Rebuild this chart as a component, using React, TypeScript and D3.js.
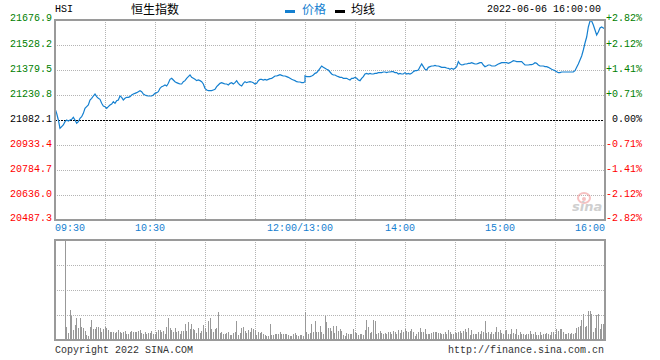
import * as d3 from 'd3'

// y-axis labels (price on the left, change vs previous close on the right)
const priceTicks = [21676.9, 21528.2, 21379.5, 21230.8, 21082.1, 20933.4, 20784.7, 20636.0, 20487.3]
const pctTicks = ['+2.82%', '+2.12%', '+1.41%', '+0.71%', '0.00%', '-0.71%', '-1.41%', '-2.12%', '-2.82%']
const prevClose = 21082.1

// time axis: slot = trading minute since 09:30 (lunch break folded out)
const timeLabels = ['09:30', '10:30', '12:00/13:00', '14:00', '15:00', '16:00']
const timeSlots = [0, 60, 150, 210, 270, 330]

// 09:30 - 12:00, one value per minute
const morningPrice = [
  21151.5, 21121.8, 21082.1, 21032.5, 21042.5, 21052.4, 21072.2, 21082.1, 21076.2, 21082.1,
  21086.1, 21098.0, 21082.1, 21062.3, 21072.2, 21092.0, 21101.9, 21121.8, 21151.5, 21161.4,
  21171.3, 21201.1, 21211.0, 21224.9, 21236.8, 21220.9, 21211.0, 21205.0, 21181.2, 21165.4,
  21161.4, 21151.5, 21161.4, 21171.3, 21177.3, 21191.2, 21181.2, 21197.1, 21201.1, 21224.9,
  21216.9, 21201.1, 21211.0, 21216.9, 21216.9, 21220.9, 21230.8, 21236.8, 21240.7, 21244.7,
  21250.6, 21256.6, 21250.6, 21236.8, 21230.8, 21226.9, 21224.9, 21224.9, 21224.9, 21230.8,
  21240.7, 21244.7, 21250.6, 21270.5, 21280.4, 21284.3, 21290.3, 21284.3, 21300.2, 21324.0,
  21330.0, 21320.0, 21310.1, 21304.2, 21300.2, 21296.2, 21296.2, 21310.1, 21316.1, 21330.0,
  21339.9, 21349.8, 21335.9, 21330.0, 21324.0, 21316.1, 21320.0, 21316.1, 21310.1, 21296.2,
  21270.5, 21260.6, 21256.6, 21256.6, 21256.6, 21260.6, 21264.5, 21280.4, 21290.3, 21300.2,
  21304.2, 21300.2, 21296.2, 21296.2, 21290.3, 21300.2, 21304.2, 21296.2, 21304.2, 21316.1,
  21300.2, 21290.3, 21284.3, 21300.2, 21310.1, 21304.2, 21308.1, 21310.1, 21308.1, 21304.2,
  21296.2, 21300.2, 21316.1, 21324.0, 21324.0, 21320.0, 21324.0, 21320.0, 21324.0, 21328.0,
  21330.0, 21335.9, 21343.8, 21343.8, 21347.8, 21351.8, 21347.8, 21343.8, 21343.8, 21339.9,
  21335.9, 21330.0, 21324.0, 21320.0, 21316.1, 21310.1, 21308.1, 21308.1, 21304.2, 21304.2,
  21310.1,
]

// 13:00 - 16:00, one value per minute
const afternoonPrice = [
  21343.8, 21339.9, 21339.9, 21339.9, 21343.8, 21349.8, 21359.7, 21363.7, 21375.6, 21389.4,
  21403.3, 21395.4, 21389.4, 21383.5, 21379.5, 21367.6, 21355.7, 21349.8, 21349.8, 21343.8,
  21339.9, 21335.9, 21335.9, 21330.0, 21330.0, 21330.0, 21324.0, 21320.0, 21330.0, 21330.0,
  21335.9, 21330.0, 21320.0, 21316.1, 21330.0, 21339.9, 21355.7, 21359.7, 21355.7, 21359.7,
  21355.7, 21355.7, 21359.7, 21359.7, 21363.7, 21363.7, 21363.7, 21367.6, 21367.6, 21363.7,
  21367.6, 21367.6, 21369.6, 21369.6, 21363.7, 21363.7, 21355.7, 21359.7, 21355.7, 21355.7,
  21363.7, 21355.7, 21359.7, 21355.7, 21359.7, 21369.6, 21375.6, 21375.6, 21379.5, 21399.3,
  21415.2, 21399.3, 21383.5, 21379.5, 21395.4, 21399.3, 21403.3, 21403.3, 21407.3, 21403.3,
  21403.3, 21399.3, 21395.4, 21395.4, 21395.4, 21391.4, 21389.4, 21383.5, 21389.4, 21383.5,
  21389.4, 21399.3, 21429.1, 21415.2, 21409.3, 21411.2, 21415.2, 21415.2, 21419.2, 21419.2,
  21423.1, 21419.2, 21415.2, 21415.2, 21419.2, 21423.1, 21423.1, 21409.3, 21399.3, 21403.3,
  21409.3, 21409.3, 21403.3, 21403.3, 21403.3, 21409.3, 21415.2, 21419.2, 21423.1, 21423.1,
  21423.1, 21423.1, 21419.2, 21423.1, 21429.1, 21435.0, 21433.1, 21429.1, 21429.1, 21429.1,
  21429.1, 21419.2, 21409.3, 21409.3, 21409.3, 21411.2, 21411.2, 21415.2, 21423.1, 21419.2,
  21409.3, 21403.3, 21403.3, 21403.3, 21399.3, 21399.3, 21395.4, 21389.4, 21383.5, 21379.5,
  21375.6, 21369.6, 21363.7, 21363.7, 21367.6, 21367.6, 21367.6, 21367.6, 21367.6, 21367.6,
  21367.6, 21367.6, 21375.6, 21395.4, 21415.2, 21439.0, 21462.8, 21498.5, 21540.1, 21575.8,
  21635.3, 21671.0, 21671.0, 21647.2, 21617.4, 21587.7, 21605.5, 21629.3, 21635.3, 21629.3,
  21623.4,
]

// volume per slot (relative units, panel top = 100)
const volume = [
  1, 1, 1, 1, 1, 1, 180,
  13.3, 7.3, 30, 24, 10, 15, 21.7, 12.3, 21.7, 13.3,
  12.3, 9, 5, 4.3, 13.3, 20, 11, 11, 13.3, 13.3,
  12.3, 8.3, 11, 13.3, 12.3, 10, 8.3, 8.3, 7.7, 6.7,
  8.3, 9.7, 7.7, 6.7, 8.3, 9, 6.3, 6.3, 7.7, 9,
  7.7, 8.3, 7.7, 9, 10, 6.7, 6.3, 8.3, 6.3, 6.7,
  7, 9, 6.3, 5.7, 7.7, 10, 10, 8.3, 9, 5.7,
  13.3, 22.3, 12.3, 10, 8.3, 12.3, 8.3, 9, 6.3, 9,
  9, 15.7, 9, 18.3, 11, 15.7, 11, 10, 7, 12.3,
  7, 9, 15, 12.3, 7.7, 19, 22.3, 11, 7.7, 11,
  12.3, 28.3, 7, 7.7, 6.3, 6.3, 7, 8, 5, 5,
  7, 8.3, 19, 5, 7, 12.3, 13.3, 9, 7, 10,
  8.3, 12.3, 11, 10, 5, 7.7, 6.7, 7.7, 5.7, 5,
  4.3, 4.3, 16.3, 5, 5, 6, 6, 6, 7.7, 6,
  6, 6, 6, 5, 4, 4.3, 6.3, 7, 5, 4,
  5, 5, 4.3, 27.7, 7.7, 5.7, 7, 15.7, 7.7, 19,
  7.7, 7.7, 14.3, 7.7, 6.3, 24.3, 18.3, 12.3, 12, 9,
  14.3, 6.7, 14.3, 9, 11, 9, 5, 4.3, 6.7, 6.3,
  5.7, 6.3, 11, 7.7, 6.7, 5, 6.3, 6.3, 5, 10,
  20, 13.3, 6.7, 8.3, 20, 19, 6.3, 6.7, 9, 6.7,
  5.7, 6.7, 6.3, 7.7, 7.7, 6.3, 9, 8.3, 6.3, 10,
  7, 9.7, 7.7, 11, 9, 7.7, 9, 11, 7.7, 4.3,
  6.3, 7.7, 11.7, 7.7, 8.3, 11, 6.3, 6.3, 6.3, 6.7,
  8.3, 7.7, 8.3, 7, 7, 6.3, 5.7, 7.7, 5.7, 10,
  7.7, 6.3, 6.3, 7.7, 6.7, 8.3, 9, 6.7, 9, 11,
  7.7, 12.3, 5, 10, 5.7, 6.3, 5.7, 7.7, 6.3, 9,
  7.7, 19, 6.7, 7.7, 6.3, 7.7, 5.7, 8.3, 13, 8.3,
  10, 6.7, 6.3, 9, 10, 6.3, 6.3, 11, 6.7, 5.7,
  11, 5, 7.7, 5.7, 6.3, 5, 6.3, 6.3, 9, 6.3,
  6.3, 7.7, 5, 5, 7.7, 5, 5.7, 5.7, 6.7, 5.7,
  5, 8.3, 7.7, 6.3, 11, 9, 11, 11, 7.7, 6.3,
  5.7, 6.7, 6.3, 6.7, 5.7, 6.7, 12.3, 13, 14.3, 20,
  25.7, 13.3, 14.3, 29, 29, 25.7, 7.7, 12.3, 25, 25.7,
  11, 15.7, 15.7, 18.3,
]

const mono = '"Liberation Mono", "DejaVu Sans Mono", monospace'
const cjk = '"Noto Sans CJK SC", sans-serif'
const blue = '#1580d0'
const gridColor = '#b4b4b4'
const frameColor = '#9a9a9a'

export default function App() {
  const x = d3.scaleLinear().domain([0, 330]).range([55, 605])
  const y = d3.scaleLinear().domain([priceTicks[8], priceTicks[0]]).range([220, 20])
  const yVol = d3.scaleLinear().domain([0, 100]).range([340, 240]).clamp(true)

  const points: [number, number][] = [
    ...morningPrice.map((p, i) => [i, p] as [number, number]),
    ...afternoonPrice.map((p, j) => [150 + j, p] as [number, number]),
  ]
  const line = d3
    .line<[number, number]>()
    .x((d) => x(d[0]))
    .y((d) => y(d[1]))

  const gridSlots = d3.range(30, 330, 30)
  const volTicks = [25, 50, 75]

  const tickColor = (v: number) => (v > prevClose + 0.01 ? '#008000' : v < prevClose - 0.01 ? '#ff0000' : '#000')
  const labelY = (i: number) => y(priceTicks[i]) + (i === 0 ? 0.5 : i === 8 ? 1 : 2)

  return (
    <svg width={660} height={360} style={{ position: 'absolute', left: 0, top: 0, background: '#fff' }}>
      {/* header */}
      <text x={55} y={12} fontFamily={mono} fontSize={10} fill="#000">HSI</text>
      <text x={131} y={14} fontFamily={cjk} fontSize={12} fill="#000">恒生指数</text>
      <rect x={285} y={10} width={10} height={3} fill={blue} />
      <text x={302} y={14} fontFamily={cjk} fontSize={12} fill={blue}>价格</text>
      <rect x={335} y={10} width={10} height={3} fill="#000" />
      <text x={351} y={14} fontFamily={cjk} fontSize={12} fill="#000">均线</text>
      <text x={601} y={12} fontFamily={mono} fontSize={10} fill="#000" textAnchor="end">2022-06-06 16:00:00</text>

      {/* price panel grid */}
      <g shapeRendering="crispEdges">
        {priceTicks.slice(1, 8).map((t, i) =>
          i + 1 === 4 ? null : (
            <line key={t} x1={55} x2={605} y1={Math.round(y(t)) + 0.5} y2={Math.round(y(t)) + 0.5} stroke={gridColor} strokeDasharray="1,1" />
          )
        )}
        {gridSlots.map((s) => (
          <line key={s} x1={Math.round(x(s)) + 0.5} x2={Math.round(x(s)) + 0.5} y1={20} y2={220} stroke={gridColor} strokeDasharray="1,1" />
        ))}
        <line x1={55} x2={605} y1={Math.round(y(prevClose)) + 0.5} y2={Math.round(y(prevClose)) + 0.5} stroke="#000" strokeDasharray="2,1" />
      </g>

      {/* sina watermark */}
      <g opacity={0.55}>
        <ellipse cx={584} cy={198} rx={6} ry={5} fill="none" stroke="#f09090" strokeWidth={2} />
        <circle cx={584} cy={199} r={2} fill="#f09090" />
        <text x={572} y={211} fontFamily="'DejaVu Sans', sans-serif" fontStyle="italic" fontWeight="bold" fontSize={13} fill="#a8a8a8">sina</text>
      </g>

      <path d={line(points) ?? ''} fill="none" stroke={blue} strokeWidth={1.2} />

      <rect x={55} y={20} width={550} height={200} fill="none" stroke={frameColor} strokeWidth={2} shapeRendering="crispEdges" />

      {/* y labels */}
      {priceTicks.map((t, i) => (
        <text key={'l' + i} x={52} y={labelY(i)} textAnchor="end" fontFamily={mono} fontSize={10} fill={tickColor(t)}>
          {t.toFixed(1)}
        </text>
      ))}
      {pctTicks.map((p, i) => (
        <text key={'r' + i} x={642} y={labelY(i)} textAnchor="end" fontFamily={mono} fontSize={10} fill={tickColor(priceTicks[i])}>
          {p}
        </text>
      ))}

      {/* time labels */}
      {timeLabels.map((lab, i) => {
        const first = i === 0
        const last = i === timeLabels.length - 1
        return (
          <text
            key={lab}
            x={first ? x(timeSlots[i]) : last ? x(timeSlots[i]) : x(timeSlots[i]) - 5}
            y={231}
            textAnchor={first ? 'start' : last ? 'end' : 'middle'}
            fontFamily={mono}
            fontSize={10}
            fill={blue}
          >
            {lab}
          </text>
        )
      })}

      {/* volume panel */}
      <g shapeRendering="crispEdges">
        {volTicks.map((t) => (
          <line key={t} x1={55} x2={605} y1={yVol(t) + 0.5} y2={yVol(t) + 0.5} stroke={gridColor} strokeDasharray="1,1" />
        ))}
        {gridSlots.map((s) => (
          <line key={s} x1={Math.round(x(s)) + 0.5} x2={Math.round(x(s)) + 0.5} y1={240} y2={340} stroke={gridColor} strokeDasharray="1,1" />
        ))}
        {volume.map((v, k) => (
          <rect key={k} x={Math.floor(x(k))} y={yVol(v)} width={1} height={340 - yVol(v)} fill="#999" />
        ))}
        <rect x={55} y={240} width={550} height={100} fill="none" stroke={frameColor} strokeWidth={2} />
      </g>

      {/* footer */}
      <text x={55} y={353} fontFamily={mono} fontSize={10} fill="#333">Copyright 2022 SINA.COM</text>
      <text x={604} y={353} fontFamily={mono} fontSize={10} fill="#333" textAnchor="end">http://finance.sina.com.cn</text>
    </svg>
  )
}
